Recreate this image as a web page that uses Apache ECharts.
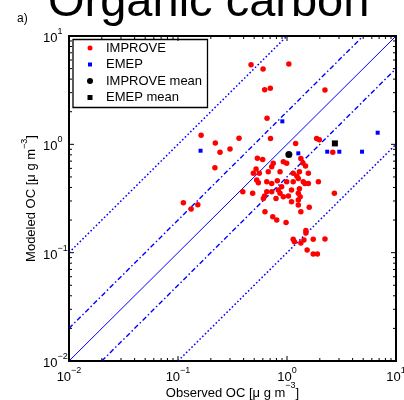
<!DOCTYPE html>
<html>
<head>
<meta charset="utf-8">
<script src="https://cdn.jsdelivr.net/npm/echarts@6/dist/echarts.min.js"></script>
<style>
  html, body { margin: 0; padding: 0; background: #fff; }
  #chart { width: 404px; height: 400px; }
</style>
</head>
<body>
<div id="chart"></div>
<script>
// Observed vs. modeled organic carbon (µg m^-3), network sites
const improveObs = [
  0.468, 0.603, 1.04, 0.624, 0.703, 2.23, 0.656, 0.163, 0.220, 0.363,
  0.300, 0.243, 0.706, 1.20, 1.87, 1.98, 2.63, 0.218, 0.535, 0.598,
  0.748, 0.925, 0.993, 1.34, 1.40, 1.48, 0.724, 0.520, 0.491, 0.557,
  0.673, 0.863, 1.14, 1.30, 1.57, 1.23, 1.27, 0.527, 0.546, 0.652,
  0.724, 0.815, 0.993, 0.893, 1.14, 1.41, 1.57, 1.94, 0.393, 0.484,
  0.652, 0.724, 0.832, 0.863, 0.925, 1.03, 1.10, 1.27, 1.32, 0.607,
  0.793, 0.622, 1.27, 1.10, 1.27, 1.60, 1.34, 0.628, 0.740, 0.805,
  0.980, 2.72, 0.112, 0.132, 0.152, 1.49, 1.49, 1.14, 1.17, 1.34,
  1.43, 1.74, 2.23, 1.53, 1.74, 1.90, 1.30, 1.46
];
const improveMod = [
  5.43, 4.95, 5.51, 3.19, 3.29, 3.17, 1.74, 1.21, 1.03, 1.14,
  0.905, 0.844, 1.13, 1.02, 1.13, 1.10, 0.844, 0.608, 0.743, 0.726,
  0.668, 0.690, 0.668, 0.740, 0.672, 0.631, 0.621, 0.591, 0.540, 0.540,
  0.558, 0.558, 0.540, 0.558, 0.540, 0.509, 0.485, 0.468, 0.442, 0.452,
  0.436, 0.461, 0.452, 0.406, 0.452, 0.452, 0.436, 0.452, 0.365, 0.353,
  0.365, 0.365, 0.378, 0.353, 0.328, 0.334, 0.378, 0.353, 0.328, 0.317,
  0.317, 0.334, 0.306, 0.295, 0.275, 0.262, 0.239, 0.239, 0.214, 0.200,
  0.190, 0.353, 0.289, 0.253, 0.277, 0.160, 0.152, 0.133, 0.126, 0.123,
  0.131, 0.133, 0.134, 0.106, 0.097, 0.097, 0.390, 0.436
];
const emepObs = [0.906, 0.161, 1.27, 2.34, 3.02, 4.88, 6.79];
const emepMod = [1.63, 0.873, 0.826, 0.855, 0.855, 0.855, 1.28];
const improveMean = [1.04, 0.805];
const emepMean = [2.75, 1.02];

// Axis range and tick positions
const axisMin = 0.01;
const axisMax = 10;
const majorTickValues = [0.01, 0.1, 1, 10];
const minorTickValues = [
  0.02, 0.03, 0.04, 0.05, 0.06, 0.07, 0.08, 0.09,
  0.2, 0.3, 0.4, 0.5, 0.6, 0.7, 0.8, 0.9,
  2, 3, 4, 5, 6, 7, 8, 9
];

// Reference lines: 1:1, 1:2 / 2:1, 1:10 / 10:1
const oneToOne = [[0.01, 0.01], [10, 10]];
const twoToOneUpper = [[0.01, 0.02], [5, 10]];
const twoToOneLower = [[0.02, 0.01], [10, 5]];
const tenToOneUpper = [[0.01, 0.1], [1, 10]];
const tenToOneLower = [[0.1, 0.01], [10, 1]];

const FONT = 'Liberation Sans';
const BLUE = '#0000ff';
const DASH_DOT = [5, 2.5, 1.5, 2.5];
const DOTTED = [1.6, 2.2];

const supRich = {
  b: { fontFamily: FONT, fontSize: 13, color: '#000', lineHeight: 18, verticalAlign: 'bottom' },
  s: { fontFamily: FONT, fontSize: 9, color: '#000', lineHeight: 9, verticalAlign: 'top' }
};

function powerLabel(v) {
  const e = Math.round(Math.log10(v));
  const txt = e < 0 ? '\u2212' + Math.abs(e) : String(e);
  return '{b|10}{s|' + txt + '}';
}

function refLine(data, dash, width) {
  return {
    type: 'line',
    data: data,
    symbol: 'none',
    silent: true,
    z: 1,
    lineStyle: { color: BLUE, width: width, type: dash, opacity: 1 }
  };
}

// Inward tick marks on all four sides of the frame, as thin rect symbols
function tickItems(values, len) {
  const items = [];
  values.forEach(v => {
    items.push({ value: [v, axisMin], symbolSize: [1, len], symbolOffset: [0, -len / 2] });
    items.push({ value: [v, axisMax], symbolSize: [1, len], symbolOffset: [0, len / 2] });
    items.push({ value: [axisMin, v], symbolSize: [len, 1], symbolOffset: [len / 2, 0] });
    items.push({ value: [axisMax, v], symbolSize: [len, 1], symbolOffset: [-len / 2, 0] });
  });
  return items;
}

const legendItems = [
  { name: 'IMPROVE', icon: 'circle', size: 5 },
  { name: 'EMEP', icon: 'rect', size: 4 },
  { name: 'IMPROVE mean', icon: 'circle', size: 6 },
  { name: 'EMEP mean', icon: 'rect', size: 5 }
];
const legendRowCenters = [48, 64.5, 81, 97.5];

const chart = echarts.init(document.getElementById('chart'), null, { renderer: 'canvas' });

chart.setOption({
  animation: false,
  backgroundColor: '#fff',
  title: [
    {
      text: 'Organic carbon',
      left: 43,
      top: -25,
      textStyle: { fontFamily: FONT, fontSize: 47, fontWeight: 'normal', color: '#000' }
    },
    {
      text: 'a)',
      left: 12,
      top: 8,
      textStyle: { fontFamily: FONT, fontSize: 12, fontWeight: 'normal', color: '#000' }
    }
  ],
  grid: {
    left: 69, right: 8, top: 36, bottom: 39,
    containLabel: false,
    outerBoundsMode: 'none',
    show: true, borderColor: '#000', borderWidth: 2, backgroundColor: 'transparent'
  },
  xAxis: {
    type: 'log',
    logBase: 10,
    min: axisMin,
    max: axisMax,
    name: '{b|Observed OC [\u03bc g m}{s|\u22123}{b|]}',
    nameLocation: 'middle',
    nameGap: 20.5,
    nameMoveOverlap: false,
    nameTextStyle: { rich: supRich },
    axisLine: { show: true, lineStyle: { color: '#000', width: 2 } },
    axisTick: { show: false },
    splitLine: { show: false },
    axisLabel: { formatter: powerLabel, rich: supRich, margin: 5 }
  },
  yAxis: {
    type: 'log',
    logBase: 10,
    min: axisMin,
    max: axisMax,
    name: '{b|Modeled OC [\u03bc g m}{s|\u22123}{b|]}',
    nameLocation: 'middle',
    nameGap: 31,
    nameMoveOverlap: false,
    nameTextStyle: { rich: supRich },
    axisLine: { show: true, lineStyle: { color: '#000', width: 2 } },
    axisTick: { show: false },
    splitLine: { show: false },
    axisLabel: { formatter: powerLabel, rich: supRich, margin: 26, align: 'left' }
  },
  legend: legendItems.map((it, i) => {
    const left = 90 - it.size / 2;
    return {
      data: [{ name: it.name, icon: it.icon }],
      left: left,
      top: legendRowCenters[i] - 6.5,
      padding: 0,
      itemWidth: it.size,
      itemHeight: it.size,
      itemGap: 0,
      selectedMode: false,
      z: 20,
      textStyle: {
        fontFamily: FONT, fontSize: 13, color: '#000',
        padding: [0, 0, 0, 106 - (left + it.size + 5)]
      }
    };
  }),
  graphic: [{
    type: 'rect',
    shape: { x: 73, y: 39.5, width: 134.5, height: 68 },
    style: { fill: null, stroke: '#000', lineWidth: 1.3 },
    silent: true,
    z: 10
  }],
  series: [
    refLine(oneToOne, 'solid', 1),
    refLine(twoToOneUpper, DASH_DOT, 1.4),
    refLine(twoToOneLower, DASH_DOT, 1.4),
    refLine(tenToOneUpper, DOTTED, 1.5),
    refLine(tenToOneLower, DOTTED, 1.5),
    {
      type: 'scatter',
      silent: true,
      clip: false,
      z: 3,
      symbol: 'rect',
      itemStyle: { color: '#000', opacity: 1 },
      data: tickItems(majorTickValues, 5).concat(tickItems(minorTickValues, 3))
    },
    {
      name: 'IMPROVE',
      type: 'scatter',
      symbol: 'circle',
      symbolSize: 5.5,
      z: 4,
      itemStyle: { color: '#ff0000', opacity: 1 },
      data: improveObs.map((x, i) => [x, improveMod[i]])
    },
    {
      name: 'EMEP',
      type: 'scatter',
      symbol: 'rect',
      symbolSize: 4,
      z: 5,
      itemStyle: { color: BLUE, opacity: 1 },
      data: emepObs.map((x, i) => [x, emepMod[i]])
    },
    {
      name: 'IMPROVE mean',
      type: 'scatter',
      symbol: 'circle',
      symbolSize: 7,
      z: 6,
      itemStyle: { color: '#000', opacity: 1 },
      data: [improveMean]
    },
    {
      name: 'EMEP mean',
      type: 'scatter',
      symbol: 'rect',
      symbolSize: 6,
      z: 6,
      itemStyle: { color: '#000', opacity: 1 },
      data: [emepMean]
    }
  ]
});
</script>
</body>
</html>
